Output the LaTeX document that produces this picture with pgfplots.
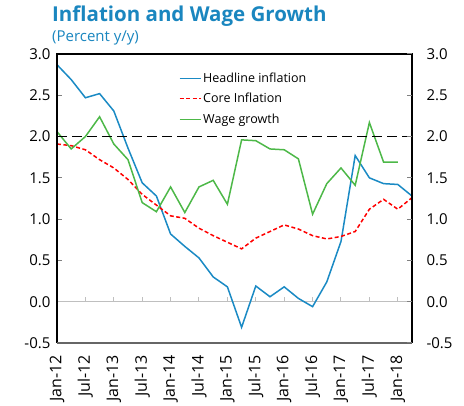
\documentclass[border=0pt]{standalone}
\usepackage{fontspec}
\setmainfont{Open Sans}
\usepackage{pgfplots}
\pgfplotsset{compat=1.18}

\definecolor{headblue}{HTML}{1A8AC4}
\definecolor{coredred}{HTML}{FF0000}
\definecolor{wagegreen}{HTML}{4DB848}
\definecolor{titleblue}{HTML}{1A86BF}
\definecolor{zerogray}{HTML}{BFBFBF}

% months since Jan-12, quarterly
\pgfplotstableread{
m  head  core  wage
0   2.87  1.91  2.06
3   2.69  1.89  1.85
6   2.47  1.84  2.00
9   2.52  1.72  2.24
12  2.31  1.62  1.91
15  1.86  1.48  1.72
18  1.44  1.30  1.20
21  1.28  1.17  1.09
24  0.82  1.04  1.39
27  0.67  1.01  1.08
30  0.53  0.89  1.39
33  0.30  0.80  1.47
36  0.18  0.72  1.18
39  -0.31 0.64  1.96
42  0.19  0.77  1.95
45  0.06  0.85  1.85
48  0.18  0.93  1.84
51  0.04  0.88  1.73
54  -0.06 0.80  1.06
57  0.24  0.76  1.43
60  0.73  0.79  1.62
63  1.77  0.85  1.41
66  1.50  1.12  2.17
69  1.43  1.24  1.69
72  1.42  1.12  1.69
75  1.28  1.26  nan
}\infl

\begin{document}
\begin{tikzpicture}
\useasboundingbox (0,0) rectangle (464pt,406pt);
\node[anchor=base west, inner sep=0, text=titleblue,
      font=\bfseries\fontsize{20.5}{23}\selectfont] at (52pt,384pt) {Inflation and Wage Growth};
\node[anchor=base west, inner sep=0, text=titleblue,
      font=\fontsize{15}{17}\selectfont] at (52pt,364pt) {(Percent y/y)};

\begin{axis}[
    at={(57pt,63pt)}, anchor=south west,
    scale only axis, width=355pt, height=289pt,
    xmin=0, xmax=75, ymin=-0.5, ymax=3,
    axis line style={draw=none},
    xtick={0,6,...,72},
    xticklabels={Jan-12,Jul-12,Jan-13,Jul-13,Jan-14,Jul-14,Jan-15,Jul-15,Jan-16,Jul-16,Jan-17,Jul-17,Jan-18},
    xtick style={draw=none},
    xticklabel style={rotate=90, anchor=east, inner xsep=12pt, inner ysep=0pt,
        font=\fontsize{16}{18}\selectfont},
    ytick={-0.5,0,...,3},
    ytick pos=both, yticklabel pos=left,
    tick align=inside, major tick length=5pt,
    ytick style={draw=gray, line width=1pt},
    yticklabel style={font=\fontsize{15}{17}\selectfont, xshift=-3pt},
    /pgf/number format/.cd, fixed, fixed zerofill, precision=1, assume math mode=true,
    /pgfplots/.cd,
    legend style={draw=none, fill=none, at={(rel axis cs:0.335,0.95)}, anchor=north west,
        font=\fontsize{12.5}{14}\selectfont, row sep=5.5pt,
        /tikz/every even column/.append style={column sep=3pt}},
    legend cell align=left,
    legend image code/.code={\draw[#1, line width=1.1pt] (0pt,0pt) -- (21pt,0pt);},
    clip=false,
]
% zero line with small upward ticks
\draw[zerogray, line width=1.2pt] (axis cs:0,0) -- (axis cs:75,0);
\pgfplotsinvokeforeach{6,12,...,72}{
  \draw[zerogray, line width=1pt] (axis cs:#1,0) -- ([yshift=5pt]axis cs:#1,0);
}
\addplot[headblue, line width=1.5pt] table[x=m, y=head] {\infl};
\addlegendentry{Headline inflation}
\addplot[coredred, line width=1.5pt, dash pattern=on 4pt off 2.5pt] table[x=m, y=core] {\infl};
\addlegendentry{Core Inflation}
\addplot[wagegreen, line width=1.5pt] table[x=m, y=wage] {\infl};
\addlegendentry{Wage growth}
% 2 percent reference
\draw[black, line width=1.5pt, dash pattern=on 10pt off 5pt] (axis cs:0,2) -- (axis cs:75,2);
% frame
\draw[black, line width=1.5pt] (rel axis cs:0,0) -- (rel axis cs:0,1) -- (rel axis cs:1,1) -- (rel axis cs:1,0);
\draw[gray!80!black, line width=1.2pt] (rel axis cs:0,0) -- (rel axis cs:1,0);
\end{axis}

\begin{axis}[
    at={(57pt,63pt)}, anchor=south west,
    scale only axis, width=355pt, height=289pt,
    xmin=0, xmax=75, ymin=-0.5, ymax=3,
    axis line style={draw=none},
    xtick=\empty,
    ytick={-0.5,0,...,3},
    ytick pos=right, yticklabel pos=right,
    tick align=inside, major tick length=5pt,
    ytick style={draw=gray, line width=1pt},
    yticklabel style={font=\fontsize{15}{17}\selectfont, xshift=11pt},
    /pgf/number format/.cd, fixed, fixed zerofill, precision=1, assume math mode=true,
]
\end{axis}
\end{tikzpicture}
\end{document}
